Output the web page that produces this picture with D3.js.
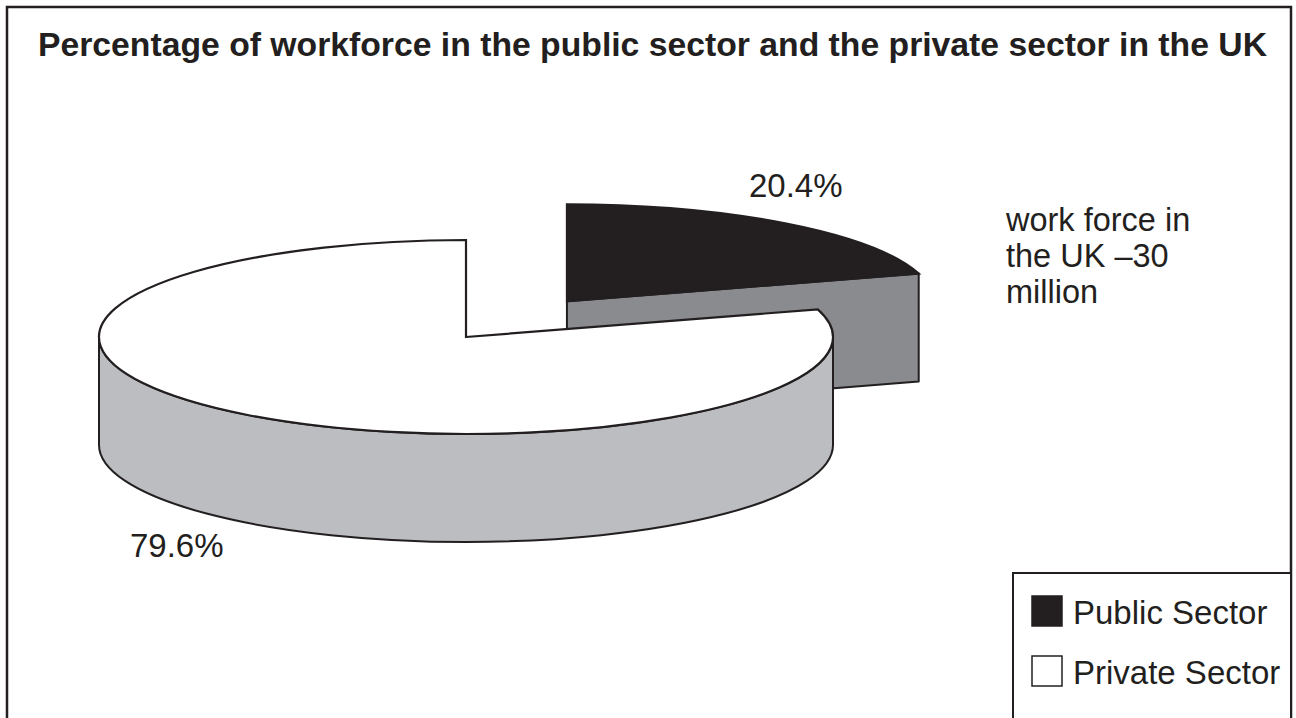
<!DOCTYPE html>
<html>
<head>
<meta charset="utf-8">
<script src="https://cdn.jsdelivr.net/npm/d3@7"></script>
<style>
  html, body { margin: 0; padding: 0; background: #fff; }
  svg { display: block; }
  text { font-family: "Liberation Sans", Arial, Helvetica, sans-serif; fill: #231f20; }
</style>
</head>
<body>
<svg id="chart" width="1296" height="718"></svg>
<script>
// Workforce split (percent of 30 million workers)
const categories = ["Public Sector", "Private Sector"];
const values = [20.4, 79.6];
const valueLabels = ["20.4%", "79.6%"];
const titleText = "Percentage of workforce in the public sector and the private sector in the UK";
const noteLines = ["work force in", "the UK \u201330", "million"];

const ink = "#231f20";
const topFill = ["#231f20", "#ffffff"];
const sideFill = ["#8a8b8e", "#bcbdc0"];
const explode = [0.46, 0];

const svg = d3.select("#chart");

// outer frame (open at the bottom edge of the page)
svg.append("rect")
  .attr("x", 7).attr("y", 7).attr("width", 1284).attr("height", 800)
  .attr("fill", "none").attr("stroke", ink).attr("stroke-width", 2.5);

svg.append("text")
  .attr("x", 38).attr("y", 56)
  .attr("font-size", 32.5).attr("font-weight", "bold")
  .attr("textLength", 1229).attr("lengthAdjust", "spacingAndGlyphs")
  .text(titleText);

// 3D pie geometry: elliptical top face, extruded downwards
const cx = 466, cy = 337, rx = 367, ry = 97, depth = 108;

const pie = d3.pie().sort(null).value(d => d)(values);

// d3 pie angle: 0 at top, increasing clockwise
const px = (a, ox) => ox + rx * Math.sin(a);
const py = (a, oy) => oy - ry * Math.cos(a);

function topPath(d, ox, oy) {
  const large = (d.endAngle - d.startAngle) > Math.PI ? 1 : 0;
  return `M${ox},${oy}L${px(d.startAngle, ox)},${py(d.startAngle, oy)}` +
         `A${rx},${ry} 0 ${large} 1 ${px(d.endAngle, ox)},${py(d.endAngle, oy)}Z`;
}

function wallPath(s, e, ox, oy) {
  const large = (e - s) > Math.PI ? 1 : 0;
  return `M${px(s, ox)},${py(s, oy)}` +
         `A${rx},${ry} 0 ${large} 1 ${px(e, ox)},${py(e, oy)}` +
         `L${px(e, ox)},${py(e, oy) + depth}` +
         `A${rx},${ry} 0 ${large} 0 ${px(s, ox)},${py(s, oy) + depth}Z`;
}

function facePath(a, ox, oy) {
  return `M${ox},${oy}L${px(a, ox)},${py(a, oy)}` +
         `L${px(a, ox)},${py(a, oy) + depth}L${ox},${oy + depth}Z`;
}

// front half of the rim spans angles [PI/2, 3PI/2] (and shifted by 2PI)
function visibleRims(s, e) {
  const out = [];
  for (const k of [-1, 0, 1]) {
    const lo = Math.max(s, Math.PI / 2 + 2 * Math.PI * k);
    const hi = Math.min(e, 3 * Math.PI / 2 + 2 * Math.PI * k);
    if (hi > lo + 1e-6) out.push([lo, hi]);
  }
  return out;
}

const pieG = svg.append("g");

// draw the exploded (rear) slice first, then the main body
const order = pie.map((d, i) => i).sort((a, b) => explode[b] - explode[a]);

order.forEach(i => {
  const d = pie[i];
  const mid = (d.startAngle + d.endAngle) / 2;
  const ox = cx + explode[i] * rx * Math.sin(mid);
  const oy = cy - explode[i] * ry * Math.cos(mid);
  const g = pieG.append("g");

  // cut faces that point towards the viewer
  const faces = [];
  if (-Math.cos(d.startAngle - Math.PI / 2) > 1e-6) faces.push(d.startAngle);
  if (-Math.cos(d.endAngle + Math.PI / 2) > 1e-6) faces.push(d.endAngle);
  faces.forEach(a => {
    g.append("path").attr("d", facePath(a, ox, oy))
      .attr("fill", sideFill[i]).attr("stroke", ink)
      .attr("stroke-width", 2).attr("stroke-linejoin", "round");
  });

  visibleRims(d.startAngle, d.endAngle).forEach(([s, e]) => {
    g.append("path").attr("d", wallPath(s, e, ox, oy))
      .attr("fill", sideFill[i]).attr("stroke", ink)
      .attr("stroke-width", 2).attr("stroke-linejoin", "round");
  });

  g.append("path").attr("d", topPath(d, ox, oy))
    .attr("fill", topFill[i]).attr("stroke", ink)
    .attr("stroke-width", 2.2).attr("stroke-linejoin", "miter");
});

// value labels
const labelPos = [[749, 197], [130, 557]];
valueLabels.forEach((t, i) => {
  svg.append("text").attr("x", labelPos[i][0]).attr("y", labelPos[i][1])
    .attr("font-size", 33).text(t);
});

// side note
svg.append("text").attr("font-size", 32.5)
  .selectAll("tspan").data(noteLines).join("tspan")
  .attr("x", 1006).attr("y", (d, i) => 231 + i * 36)
  .text(d => d);

// legend
const lg = svg.append("g");
lg.append("rect").attr("x", 1013).attr("y", 573).attr("width", 278).attr("height", 200)
  .attr("fill", "#fff").attr("stroke", ink).attr("stroke-width", 2);
categories.forEach((c, i) => {
  const y0 = 596 + i * 60;
  lg.append("rect").attr("x", 1032).attr("y", y0).attr("width", 30).attr("height", 30)
    .attr("fill", topFill[i]).attr("stroke", ink).attr("stroke-width", 1.5);
  lg.append("text").attr("x", 1073).attr("y", y0 + 28)
    .attr("font-size", 33).text(c);
});
</script>
</body>
</html>
